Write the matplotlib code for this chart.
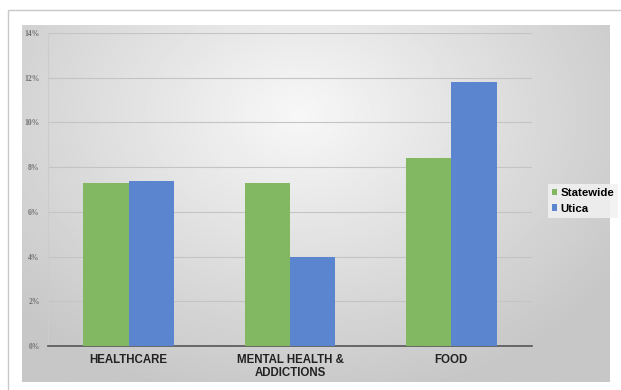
import numpy as np
import matplotlib
matplotlib.use("Agg")
import matplotlib.pyplot as plt
from matplotlib.patches import Rectangle

categories = ["HEALTHCARE", "MENTAL HEALTH &\nADDICTIONS", "FOOD"]
statewide = [7.3, 7.3, 8.4]
utica = [7.4, 4.0, 11.8]
yticks = [0, 2, 4, 6, 8, 10, 12, 14]

green = "#82b862"
blue = "#5b86cf"

W, H = 621, 390
fig = plt.figure(figsize=(W / 100, H / 100), dpi=100)
fig.patch.set_facecolor("white")

# outer frame line, drawn in a full-figure axes behind everything
frame = fig.add_axes([0, 0, 1, 1], zorder=-2)
frame.set_axis_off()
frame.set_xlim(0, W)
frame.set_ylim(H, 0)
frame.add_patch(Rectangle((8, 10), W, H, facecolor="white", edgecolor="#c8c8c8", lw=1.0))

# chart area with radial grey gradient
bg = fig.add_axes([22 / W, 1 - 382 / H, (610 - 22) / W, (382 - 25) / H], zorder=-1)
bg.set_axis_off()
yy, xx = np.mgrid[0:1:200j, 0:1:300j]
r = np.sqrt(((xx - 0.47) / 0.72) ** 2 + ((yy - 0.25) / 0.9) ** 2)
shade = np.clip(0.97 - 0.21 * r, 0.78, 0.97)
bg.imshow(shade, cmap="gray", vmin=0, vmax=1, aspect="auto", extent=[0, 1, 1, 0])

ax = fig.add_axes([48 / W, 1 - 346 / H, (532 - 48) / W, (346 - 33) / H])
ax.patch.set_alpha(0)

x = np.arange(len(categories))
w = 0.28
ax.bar(x - w / 2, statewide, w, color=green, label="Statewide", zorder=3)
ax.bar(x + w / 2, utica, w, color=blue, label="Utica", zorder=3)

ax.set_xlim(-0.5, 2.5)
ax.set_ylim(0, 14)
ax.set_yticks(yticks)
ax.set_yticklabels([f"{v}%" for v in yticks], fontsize=5.5, color="#707070",
                   family="Liberation Serif", fontweight="bold")
ax.yaxis.grid(True, color="#c4c4c4", lw=0.8, zorder=0)
ax.set_xticks(x)
ax.set_xticklabels(categories, fontsize=8.3, fontweight="bold", color="#222222",
                   family="Liberation Sans", linespacing=1.05)
ax.tick_params(axis="both", length=0)
ax.tick_params(axis="y", pad=6)
ax.tick_params(axis="x", pad=6)
for s in ["top", "right"]:
    ax.spines[s].set_visible(False)
ax.spines["left"].set_color("#cccccc")
ax.spines["left"].set_linewidth(0.8)
ax.spines["bottom"].set_color("#555555")
ax.spines["bottom"].set_linewidth(1.2)

leg = fig.legend(loc="center left", bbox_to_anchor=(542 / W, 1 - 201 / H), frameon=True,
                 prop={"family": "Liberation Sans", "weight": "bold", "size": 8.2},
                 handlelength=0.45, handleheight=0.45, handletextpad=0.3, borderpad=0.35,
                 labelspacing=0.45, fancybox=False)
leg.get_frame().set_facecolor("#f2f2f2")
leg.get_frame().set_edgecolor("none")
leg.get_frame().set_alpha(0.85)

fig.savefig("out.png", dpi=100)
